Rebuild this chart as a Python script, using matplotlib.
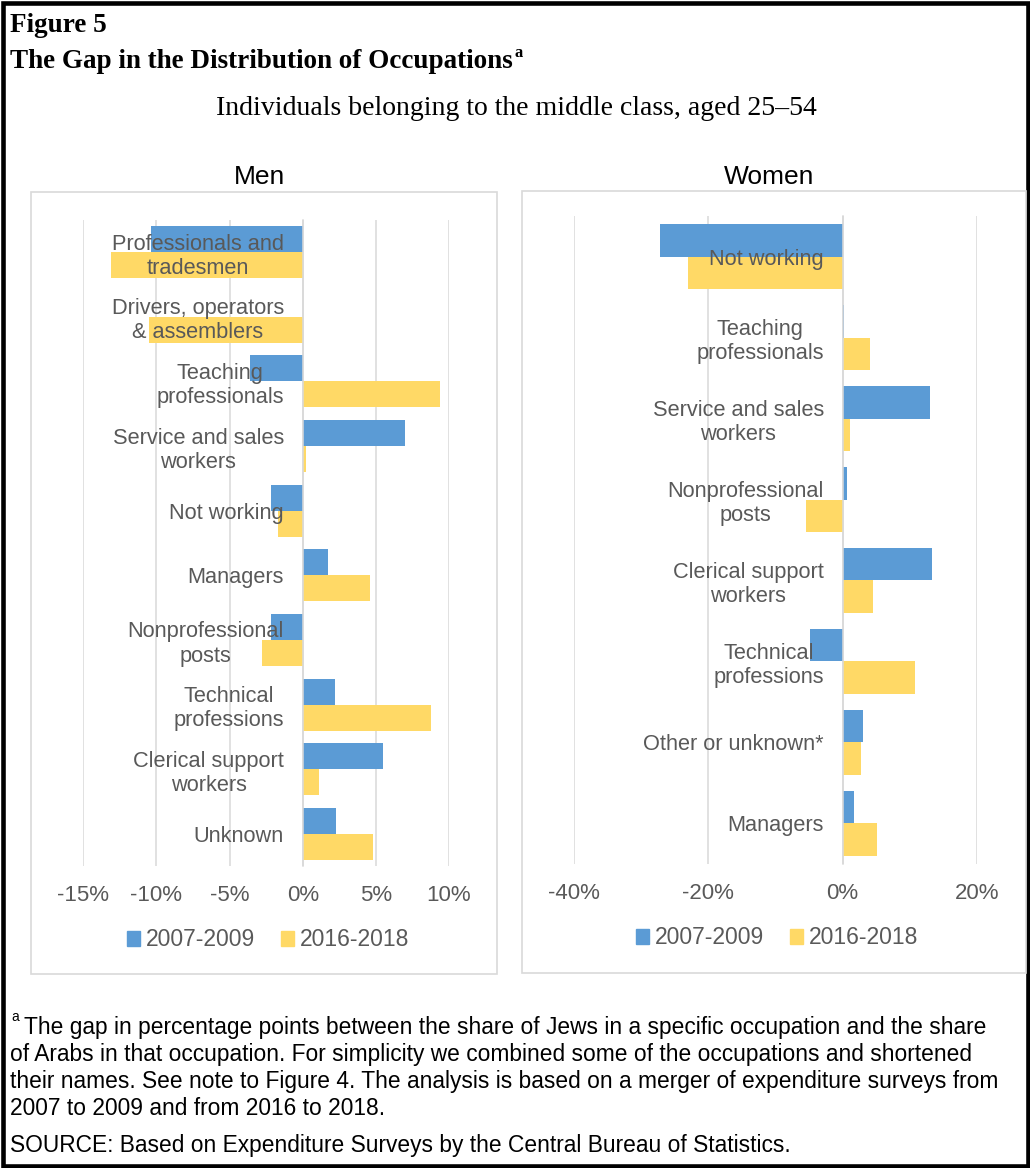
import matplotlib
matplotlib.use('Agg')
import matplotlib.pyplot as plt
from matplotlib.patches import Rectangle, Patch
from matplotlib.ticker import FuncFormatter
import numpy as np

plt.rcParams['font.family'] = ['Liberation Sans', 'DejaVu Sans']
plt.rcParams['axes.unicode_minus'] = False

# gap (Jews minus Arabs) in percentage points, by occupation
men_jobs = ['Professionals and\ntradesmen', 'Drivers, operators\n& assemblers',
            'Teaching\nprofessionals', 'Service and sales\nworkers', 'Not working',
            'Managers', 'Nonprofessional\nposts', 'Technical\nprofessions',
            'Clerical support\nworkers', 'Unknown']
men_0709 = [-10.4, 0.0, -3.6, 7.0, -2.2, 1.7, -2.2, 2.2, 5.5, 2.3]
men_1618 = [-13.1, -10.5, 9.4, 0.25, -1.7, 4.6, -2.8, 8.8, 1.1, 4.8]

women_jobs = ['Not working', 'Teaching\nprofessionals', 'Service and sales\nworkers',
              'Nonprofessional\nposts', 'Clerical support\nworkers',
              'Technical\nprofessions', 'Other or unknown*', 'Managers']
women_0709 = [-27.2, 0.2, 13.0, 0.7, 13.4, -4.9, 3.1, 1.7]
women_1618 = [-23.0, 4.1, 1.1, -5.5, 4.6, 10.8, 2.8, 5.1]

periods = ['2007-2009', '2016-2018']
men_ticks = [-15, -10, -5, 0, 5, 10]
women_ticks = [-40, -20, 0, 20]

BLUE = '#5B9BD5'
GOLD = '#FFD966'
GRID = '#D9D9D9'
TEXT = '#595959'
SERIF = ['Liberation Serif', 'DejaVu Serif']

W, H = 1030, 1168


def fx(px):
    return px / W


def fy(px):
    return 1 - px / H


def draw_panel(fig, box, jobs, first, second, ticks):
    # box is (left, top, right, bottom) in pixels
    l, t, r, b = box
    ax = fig.add_axes([fx(l), fy(b), fx(r) - fx(l), (b - t) / H])
    ax.patch.set_alpha(0)
    for s in ['top', 'right', 'bottom']:
        ax.spines[s].set_visible(False)
    # vertical axis sits on the zero line (this resets the ticks, so do it first)
    ax.spines['left'].set_position(('data', 0))
    ax.spines['left'].set_color(GRID)
    ax.spines['left'].set_linewidth(1.1)
    ax.tick_params(length=0, labelcolor=TEXT, pad=13.5)
    ax.tick_params(axis='x', labelsize=16)
    ax.tick_params(axis='y', labelsize=15.7)

    pos = np.arange(len(jobs))
    for v in ticks:
        ax.axvline(v, color=GRID, lw=1.1, zorder=0.5)
    ax.barh(pos - 0.2, first, height=0.4, color=BLUE, zorder=1)
    ax.barh(pos + 0.2, second, height=0.4, color=GOLD, zorder=1)
    ax.set_ylim(len(jobs) - 0.5, -0.5)
    ax.set_xlim(ticks[0], ticks[-1])
    ax.set_xticks(ticks)
    ax.xaxis.set_major_formatter(FuncFormatter(lambda v, p: '%d%%' % v))
    ax.set_yticks(pos)
    ax.set_yticklabels(jobs)
    for lbl in ax.get_yticklabels():
        lbl.set_multialignment('center')
    return ax


fig = plt.figure(figsize=(W / 100, H / 100), dpi=100)
renderer = fig.canvas.get_renderer()

# outer frame and the two light panel frames
fig.add_artist(Rectangle((fx(2.5), fy(H - 2.5)), fx(W - 5), (H - 5) / H,
                         transform=fig.transFigure, fill=False, ec='black', lw=3.3))
for l, t, r, b in [(31, 192, 497, 974), (522, 191, 1026, 973)]:
    fig.add_artist(Rectangle((fx(l), fy(b)), fx(r - l), (b - t) / H,
                             transform=fig.transFigure, fill=False, ec=GRID, lw=1.2))

fig.text(fx(10), fy(32), 'Figure 5', family=SERIF, weight='bold', size=19.5, va='baseline')
title = fig.text(fx(10), fy(68), 'The Gap in the Distribution of Occupations', family=SERIF,
                 weight='bold', size=19.5, va='baseline')
x_end = title.get_window_extent(renderer).x1
fig.text((x_end + 2) / W, fy(57), 'a', family=SERIF, weight='bold', size=12, va='baseline')
fig.text(fx(516), fy(115), 'Individuals belonging to the middle class, aged 25\u201354',
         family=SERIF, size=20, ha='center', va='baseline')

fig.text(fx(259), fy(184), 'Men', size=19, ha='center', va='baseline')
fig.text(fx(769), fy(184), 'Women', size=19, ha='center', va='baseline')

draw_panel(fig, (83.3, 219.7, 449, 866.3), men_jobs, men_0709, men_1618, men_ticks)
draw_panel(fig, (574.3, 216.2, 976.7, 863.8), women_jobs, women_0709, women_1618, women_ticks)

handles = [Patch(color=BLUE), Patch(color=GOLD)]
for cx, cy in [(268, 940), (777, 938)]:
    fig.legend(handles, periods, loc='center', bbox_to_anchor=(fx(cx), fy(cy)), ncol=2,
               frameon=False, fontsize=16.5, labelcolor=TEXT, handlelength=0.6,
               handleheight=0.6, handletextpad=0.25, columnspacing=1.1)

# footnote and source
fig.text(fx(11), fy(1021), 'a', size=10, va='baseline')
notes = ['The gap in percentage points between the share of Jews in a specific occupation and the share',
         'of Arabs in that occupation. For simplicity we combined some of the occupations and shortened',
         'their names. See note to Figure 4. The analysis is based on a merger of expenditure surveys from',
         '2007 to 2009 and from 2016 to 2018.']
for i, line in enumerate(notes):
    fig.text(fx(24 if i == 0 else 10), fy(1034 + 27 * i), line, size=16.4, va='baseline')
fig.text(fx(10), fy(1152), 'SOURCE: Based on Expenditure Surveys by the Central Bureau of Statistics.',
         size=16.4, va='baseline')

fig.savefig('out.png', dpi=100)
